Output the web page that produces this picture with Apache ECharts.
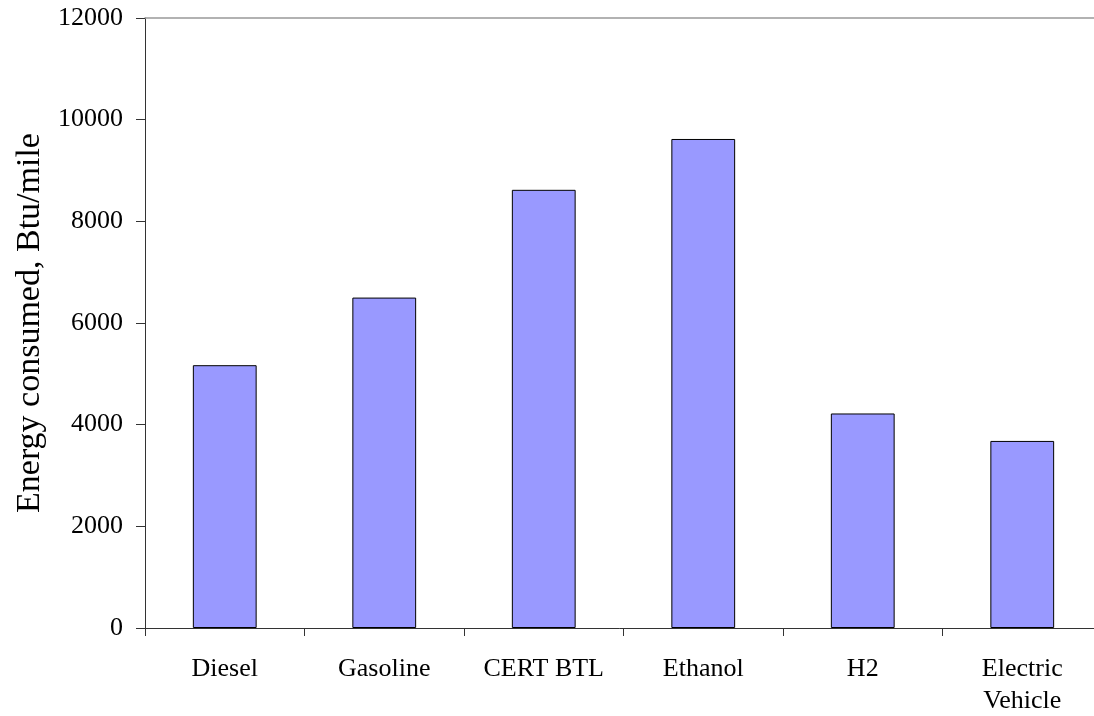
<!DOCTYPE html>
<html>
<head>
<meta charset="utf-8">
<style>
  html, body { margin: 0; padding: 0; background: #fff; }
  #chart { width: 1094px; height: 716px; }
</style>
<script src="https://cdn.jsdelivr.net/npm/echarts@6/dist/echarts.min.js"></script>
</head>
<body>
<div id="chart"></div>
<script>
// fuel pathways and their energy use
var categories = ["Diesel", "Gasoline", "CERT BTL", "Ethanol", "H2", "Electric\nVehicle"];
var energyBtuPerMile = [5170, 6500, 8620, 9620, 4220, 3680];
var yTicks = [0, 2000, 4000, 6000, 8000, 10000, 12000];

var chart = echarts.init(document.getElementById("chart"));
var font = "'Liberation Serif', 'Times New Roman', serif";

var option = {
  animation: false,
  grid: {
    left: 145,
    top: 18,
    bottom: 88,
    right: -8,
    containLabel: false,
    outerBoundsMode: "none"
  },
  xAxis: [
    {
      type: "category",
      data: categories,
      axisLine: { lineStyle: { color: "#333", width: 1 } },
      axisTick: { show: true, length: 8, lineStyle: { color: "#333" } },
      axisLabel: {
        color: "#000",
        fontFamily: font,
        fontSize: 26,
        lineHeight: 32,
        margin: 25,
        interval: 0
      }
    },
    {
      // plot area top border
      type: "category",
      data: categories,
      position: "top",
      axisLine: { lineStyle: { color: "#999", width: 1.5 } },
      axisTick: { show: false },
      axisLabel: { show: false }
    }
  ],
  yAxis: {
    type: "value",
    min: yTicks[0],
    max: yTicks[yTicks.length - 1],
    interval: 2000,
    name: "Energy consumed, Btu/mile",
    nameLocation: "middle",
    nameGap: 93,
    nameTextStyle: { color: "#000", fontFamily: font, fontSize: 34 },
    axisLine: { show: true, lineStyle: { color: "#333", width: 1 } },
    axisTick: { show: true, length: 9, lineStyle: { color: "#333" } },
    splitLine: { show: false },
    axisLabel: {
      color: "#000",
      fontFamily: font,
      fontSize: 26,
      margin: 22,
      formatter: function (v) { return String(v); }
    }
  },
  series: [
    {
      type: "bar",
      data: energyBtuPerMile,
      barWidth: "40%",
      itemStyle: {
        color: "#9999FF",
        borderColor: "#000",
        borderWidth: 1
      }
    }
  ]
};

chart.setOption(option);
</script>
</body>
</html>
